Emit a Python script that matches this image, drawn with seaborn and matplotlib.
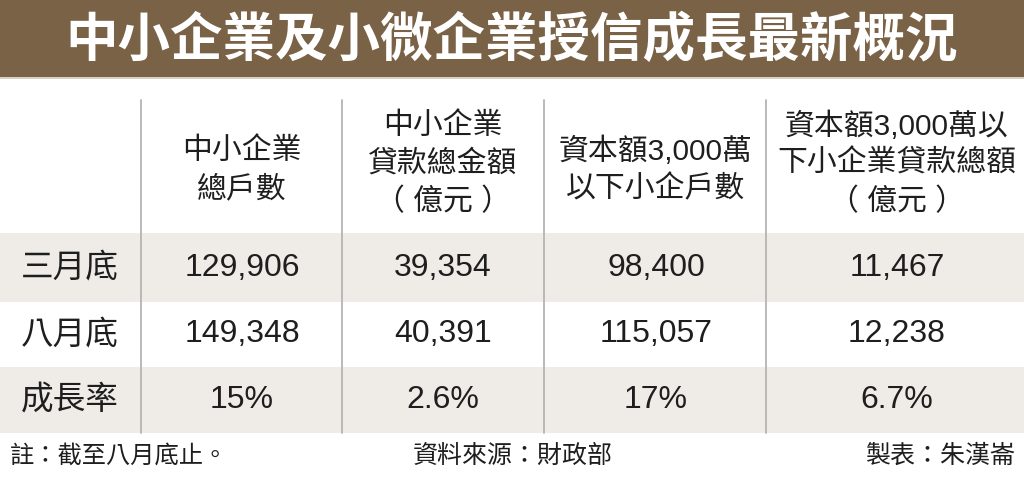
import matplotlib
matplotlib.use("Agg")
import matplotlib.pyplot as plt
import seaborn as sns

title = "中小企業及小微企業授信成長最新概況"
headers = [
    ["中小企業", "總戶數"],
    ["中小企業", "貸款總金額", "（ 億元 ）"],
    ["資本額3,000萬", "以下小企戶數"],
    ["資本額3,000萬以", "下小企業貸款總額", "（ 億元 ）"],
]
row_labels = ["三月底", "八月底", "成長率"]
march = [129906, 39354, 98400, 11467]
august = [149348, 40391, 115057, 12238]
growth = ["15%", "2.6%", "17%", "6.7%"]
note = "註：截至八月底止。"
source = "資料來源：財政部"
author = "製表：朱漢崙"

sns.set_theme(style="white")
FAM = ["Liberation Sans", "Noto Sans CJK TC", "DejaVu Sans"]
plt.rcParams["font.family"] = FAM

W, H = 1024, 479
fig = plt.figure(figsize=(W / 100, H / 100), dpi=100)
ax = fig.add_axes([0, 0, 1, 1])
ax.set_xlim(0, W)
ax.set_ylim(H, 0)
ax.axis("off")

brown = "#7a6247"
band = "#efece7"
txt = "#1e1e1e"

# title bar
ax.axhspan(0, 77, color=brown, lw=0)
ax.axhspan(77, 79, color="#d9cfc2", lw=0)
ax.text(W / 2, 40, title, ha="center", va="center", color="white",
        fontsize=37.8, fontweight="bold", family=["Noto Sans CJK TC"])

# row bands
row_top = [233, 302, 367]
row_bot = [302, 367, 433]
for i, (t, b) in enumerate(zip(row_top, row_bot)):
    if i != 1:
        ax.axhspan(t, b, color=band, lw=0)

# vertical separators
for x in [141, 342, 544, 766]:
    ax.plot([x, x], [100, 433], color="#b4b4b4", lw=1.3)

col_x = [242, 443, 656, 897]
label_x = 70

# headers
for cx, lines in zip(col_x, headers):
    n = len(lines)
    start = 151 if n == 2 else 126
    for k, line in enumerate(lines):
        ax.text(cx, start + k * 38, line, ha="center", va="center",
                color=txt, fontsize=21.5)

# rows
rows = [[f"{v:,}" for v in march], [f"{v:,}" for v in august], growth]
for i, (lab, vals) in enumerate(zip(row_labels, rows)):
    cy = (row_top[i] + row_bot[i]) / 2
    ax.text(label_x, cy, lab, ha="center", va="center", color=txt,
            fontsize=23.5, family=["Noto Sans CJK TC"])
    for cx, v in zip(col_x, vals):
        ax.text(cx, cy, v, ha="center", va="center", color=txt,
                fontsize=23)

# footer
ax.text(10, 456, note, ha="left", va="center", color=txt, fontsize=17.5)
ax.text(513, 456, source, ha="center", va="center", color=txt, fontsize=18)
ax.text(1015, 456, author, ha="right", va="center", color=txt, fontsize=18)

fig.savefig("out.png", dpi=100, facecolor="white")
